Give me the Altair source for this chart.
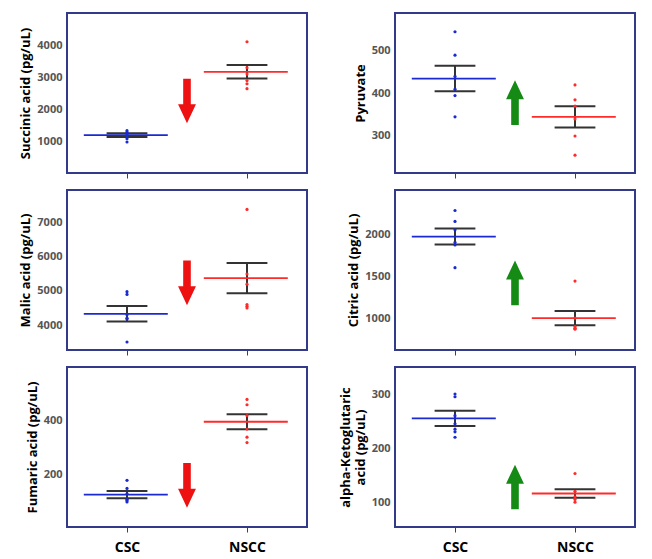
import altair as alt
import pandas as pd

titles = [["Succinic acid (pg/uL)"], ["Pyruvate"], ["Malic acid (pg/uL)"], ["Citric acid (pg/uL)"],
          ["Fumaric acid (pg/uL)"], ["alpha-Ketoglutaric", "acid (pg/uL)"]]
domains = [[40, 4990], [213, 589], [3265, 7970], [620, 2524], [7, 600], [54, 350]]
ticks = [[1000, 2000, 3000, 4000], [300, 400, 500], [4000, 5000, 6000, 7000],
         [1000, 1500, 2000], [200, 400], [100, 200, 300]]
csc_pts = [[1000, 1100, 1200, 1250, 1300, 1350], [345, 395, 410, 440, 490, 545],
           [3500, 4180, 4200, 4300, 4900, 4980], [1600, 1870, 1900, 2050, 2150, 2280],
           [100, 105, 110, 130, 150, 180], [220, 230, 235, 245, 260, 295, 300]]
nscc_pts = [[2650, 2800, 2900, 3100, 3300, 4100], [255, 300, 340, 370, 385, 420],
            [4500, 4550, 4600, 5200, 5500, 7400], [870, 870, 880, 900, 1000, 1440],
            [320, 340, 370, 420, 460, 480], [100, 105, 110, 120, 153]]
csc_mean = [1210, 435, 4330, 1970, 127, 255]
csc_sem = [60, 30, 230, 95, 13, 14]
nscc_mean = [3170, 345, 5380, 1000, 397, 116]
nscc_sem = [210, 25, 445, 85, 28, 8]
arrow_dir = ["down", "up", "down", "up", "down", "up"]
arrow_frac = [0.55, 0.56, 0.58, 0.58, 0.74, 0.75]

DOWN = "M-0.17,-1 L0.17,-1 L0.17,0.15 L0.4,0.15 L0,1 L-0.4,0.15 L-0.17,0.15 Z"
UP = "M-0.17,1 L0.17,1 L0.17,-0.15 L0.4,-0.15 L0,-1 L-0.4,-0.15 L-0.17,-0.15 Z"

FONT = "Open Sans"

def panel(i, bottom):
    d0, d1 = domains[i]
    y = alt.Y("y:Q", scale=alt.Scale(domain=[d0, d1], nice=False, zero=False),
              axis=alt.Axis(values=ticks[i], title=titles[i], grid=False, labelFont=FONT, format="d",
                            labelFontWeight="bold", labelColor="#555", labelFontSize=11,
                            titleFont=FONT, titleFontWeight="bold", titleFontSize=13,
                            titleColor="black", domain=False, ticks=False, labelPadding=5))
    x = alt.X("x:Q", scale=alt.Scale(domain=[0.5, 2.5], nice=False),
              axis=alt.Axis(values=[1, 2], title=None, grid=False, domain=False,
                            tickColor="#333a8a", tickSize=5, labels=bottom,
                            labelExpr="datum.value == 1 ? 'CSC' : 'NSCC'",
                            labelFont=FONT, labelFontWeight="bold", labelFontSize=14,
                            labelColor="black", labelPadding=8))
    pts = pd.DataFrame([{"x": 1, "y": v, "g": "CSC"} for v in csc_pts[i]] +
                       [{"x": 2, "y": v, "g": "NSCC"} for v in nscc_pts[i]])
    col = alt.Color("g:N", scale=alt.Scale(domain=["CSC", "NSCC"], range=["#1a2ad0", "#ff2a2a"]), legend=None)
    points = alt.Chart(pts).mark_circle(size=10, opacity=1).encode(x=x, y=y, color=col)
    means = pd.DataFrame([{"x": 0.64, "x2": 1.34, "y": csc_mean[i], "g": "CSC"},
                          {"x": 1.64, "x2": 2.34, "y": nscc_mean[i], "g": "NSCC"}])
    mean_rule = alt.Chart(means).mark_rule(strokeWidth=1.8).encode(x=x, x2="x2:Q", y=y, color=col)
    eb = []
    for cx, m, s in [(1, csc_mean[i], csc_sem[i]), (2, nscc_mean[i], nscc_sem[i])]:
        eb.append({"x": cx - 0.17, "x2": cx + 0.17, "y": m + s, "y2": m + s})
        eb.append({"x": cx - 0.17, "x2": cx + 0.17, "y": m - s, "y2": m - s})
        eb.append({"x": cx, "x2": cx, "y": m - s, "y2": m + s})
    ebs = alt.Chart(pd.DataFrame(eb)).mark_rule(color="#333", strokeWidth=2).encode(
        x=x, x2="x2:Q", y=y, y2="y2:Q")
    ay = d1 - arrow_frac[i] * (d1 - d0)
    up = arrow_dir[i] == "up"
    arr = alt.Chart(pd.DataFrame([{"x": 1.5, "y": ay}])).mark_point(
        shape=UP if up else DOWN, size=2000, filled=True, opacity=1, strokeWidth=0,
        color="#158a15" if up else "#ee1111").encode(x=x, y=y)
    return alt.layer(ebs, mean_rule, points, arr).properties(width=240, height=160)

left = alt.vconcat(*[panel(i, i == 4) for i in [0, 2, 4]], spacing=9)
right = alt.vconcat(*[panel(i, i == 5) for i in [1, 3, 5]], spacing=9)
chart = alt.hconcat(left, right, spacing=30).configure_view(
    stroke="#333a8a", strokeWidth=2).properties(padding={"left": 10, "top": 4, "right": 5, "bottom": 5})
chart.save("out.html", embed_options={"renderer": "svg", "actions": False})
